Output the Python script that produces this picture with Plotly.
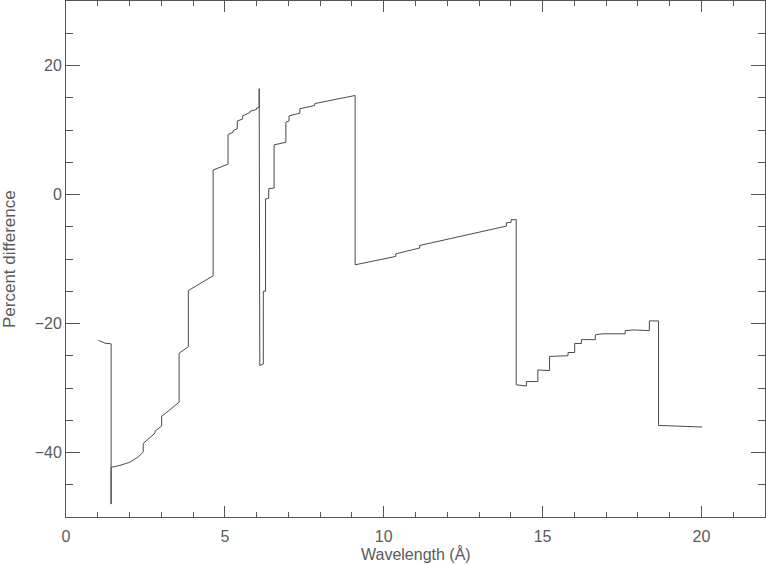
import plotly.graph_objects as go

wavelength = [
    1.02, 1.12, 1.23, 1.42, 1.42, 1.42, 1.70, 2.01, 2.27, 2.43, 2.43, 2.80, 2.80,
    3.01, 3.01, 3.56, 3.56, 3.85, 3.85, 4.63, 4.63, 5.10, 5.10, 5.26, 5.26, 5.39,
    5.39, 5.56, 5.56, 5.73, 5.79, 5.79, 5.94, 5.94, 6.00, 6.00, 6.08, 6.08, 6.10,
    6.10, 6.21, 6.21, 6.28, 6.28, 6.38, 6.38, 6.55, 6.55, 6.92, 6.92, 7.02, 7.02,
    7.36, 7.36, 7.83, 7.83, 9.10, 9.10, 10.38, 10.38, 10.71, 11.13, 11.13, 13.86,
    13.86, 14.01, 14.01, 14.17, 14.17, 14.49, 14.49, 14.85, 14.85, 15.22, 15.22,
    15.62, 15.80, 15.80, 16.01, 16.01, 16.22, 16.22, 16.66, 16.66, 16.88, 17.60,
    17.60, 17.86, 18.10, 18.10, 18.36, 18.36, 18.65, 18.65, 19.22, 19.22, 20.02,
]
percent_diff = [
    -22.6, -22.8, -23.05, -23.15, -48.0, -42.3, -42.0, -41.5, -40.7, -39.95, -38.6,
    -37.0, -36.7, -35.9, -34.4, -32.2, -24.6, -23.6, -14.9, -12.6, 3.8, 4.7, 9.3,
    9.66, 9.9, 10.2, 11.4, 11.7, 12.2, 12.6, 12.7, 12.9, 13.0, 13.1, 13.2, 13.4,
    13.5, 16.4, 16.4, -26.5, -26.3, -15.0, -15.0, -0.7, -0.6, 0.9, 1.0, 7.7, 8.1,
    11.2, 11.4, 12.2, 12.6, 13.3, 13.8, 14.1, 15.35, -10.9, -9.6, -9.2, -8.8, -8.3,
    -7.9, -4.9, -4.4, -4.3, -3.9, -3.9, -29.5, -29.7, -29.0, -29.0, -27.2, -27.3,
    -25.1, -25.07, -25.0, -24.5, -24.5, -23.1, -23.1, -22.5, -22.5, -21.75, -21.6,
    -21.6, -21.1, -21.0, -21.0, -21.1, -21.1, -19.6, -19.6, -35.8, -35.9, -36.0, -36.05,
]

x_tick_vals = [0, 5, 10, 15, 20]
x_tick_text = ["0", "5", "10", "15", "20"]
y_tick_vals = [-40, -20, 0, 20]
y_tick_text = ["\u221240", "\u221220", "0", "20"]
x_title = "Wavelength (Å)"
y_title = "Percent difference"

ink = "#555555"
font = dict(family="Liberation Sans, Arial, sans-serif", size=16, color="#5a5a5a")
title_font = dict(family="Liberation Sans, Arial, sans-serif", size=17, color="#5a5a5a")

fig = go.Figure()
fig.add_trace(go.Scatter(
    x=wavelength, y=percent_diff, mode="lines",
    line=dict(color="#4a4a4a", width=1), showlegend=False, hoverinfo="skip",
))

common = dict(showgrid=False, zeroline=False, showline=True, linecolor=ink,
              linewidth=1, ticks="inside", tickcolor=ink, tickwidth=1,
              automargin=False)

fig.update_layout(
    width=766, height=565,
    margin=dict(l=66, r=1, t=1, b=48),
    paper_bgcolor="white", plot_bgcolor="white",
    font=font,
    xaxis=dict(
        range=[0, 22], ticklen=11, tickvals=x_tick_vals, ticktext=x_tick_text,
        minor=dict(ticks="inside", ticklen=5, dtick=1, tick0=0, tickcolor=ink, showgrid=False),
        tickfont=font, ticklabelstandoff=5, **common,
    ),
    yaxis=dict(
        range=[-50, 30], ticklen=14, tickvals=y_tick_vals, ticktext=y_tick_text,
        minor=dict(ticks="inside", ticklen=7, dtick=5, tick0=0, tickcolor=ink, showgrid=False),
        tickfont=font, **common,
    ),
    xaxis2=dict(
        range=[0, 22], overlaying="x", side="top", matches="x", showticklabels=False,
        ticklen=11, tickvals=x_tick_vals,
        minor=dict(ticks="inside", ticklen=5, dtick=1, tick0=0, tickcolor=ink, showgrid=False),
        **common,
    ),
    yaxis2=dict(
        range=[-50, 30], overlaying="y", side="right", matches="y", showticklabels=False,
        ticklen=14, tickvals=y_tick_vals,
        minor=dict(ticks="inside", ticklen=7, dtick=5, tick0=0, tickcolor=ink, showgrid=False),
        **common,
    ),
    annotations=[
        dict(text=x_title, xref="paper", yref="paper", x=0.5, y=0, yshift=-37,
             xanchor="center", yanchor="middle", showarrow=False, font=font),
        dict(text=y_title, xref="paper", yref="paper", x=0, y=0.5, xshift=-57,
             xanchor="center", yanchor="middle", textangle=-90, showarrow=False,
             font=title_font),
    ],
)

# invisible trace to activate the mirrored tick axes
fig.add_trace(go.Scatter(x=[None], y=[None], xaxis="x2", yaxis="y2",
                         showlegend=False, hoverinfo="skip"))

fig.write_html("out.html", config={"displayModeBar": False},
               post_script="document.body.style.margin='0px';")
